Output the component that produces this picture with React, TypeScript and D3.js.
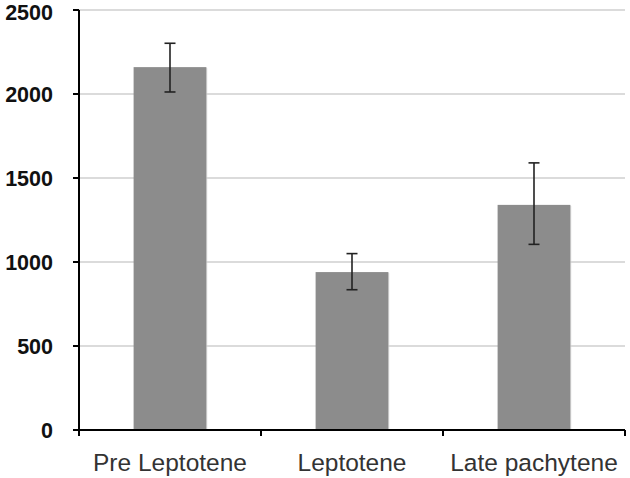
import React from "react";
import * as d3 from "d3";

const categories = ["Pre Leptotene", "Leptotene", "Late pachytene"];
const values = [2160, 940, 1340];
const errLow = [2012, 835, 1105];
const errHigh = [2302, 1050, 1590];
const yTicks = [0, 500, 1000, 1500, 2000, 2500];

const W = 630;
const H = 478;
const left = 79;
const right = 625;
const top = 10;
const bottom = 430;

export default function App() {
  const x = d3
    .scaleBand<string>()
    .domain(categories)
    .range([left, right])
    .paddingInner(0.6)
    .paddingOuter(0.3);
  const y = d3.scaleLinear().domain([0, 2500]).range([bottom, top]);
  const step = x.step();
  const boundaries = d3.range(categories.length + 1).map((i) => left + i * step);

  return (
    <svg width={W} height={H} style={{ position: "absolute", left: 0, top: 0 }}>
      <rect width={W} height={H} fill="#fff" />
      {yTicks
        .filter((t) => t > 0)
        .map((t) => (
          <line key={t} x1={left} x2={right} y1={y(t)} y2={y(t)} stroke="#b8b8b8" strokeWidth={1.2} />
        ))}
      {categories.map((c, i) => (
        <g key={c}>
          <rect
            x={x(c)! + 1}
            y={y(values[i]) + 1}
            width={x.bandwidth()}
            height={bottom - y(values[i])}
            fill="#d8d8d8"
            opacity={0.6}
          />
          <rect
            x={x(c)!}
            y={y(values[i])}
            width={x.bandwidth()}
            height={bottom - y(values[i])}
            fill="#8c8c8c"
          />
        </g>
      ))}
      {categories.map((c, i) => {
        const cx = x(c)! + x.bandwidth() / 2;
        return (
          <g key={c + "e"} stroke="#222" strokeWidth={1.6}>
            <line x1={cx} x2={cx} y1={y(errLow[i])} y2={y(errHigh[i])} />
            <line x1={cx - 5.5} x2={cx + 5.5} y1={y(errLow[i])} y2={y(errLow[i])} />
            <line x1={cx - 5.5} x2={cx + 5.5} y1={y(errHigh[i])} y2={y(errHigh[i])} />
          </g>
        );
      })}
      <line x1={left} x2={left} y1={top} y2={bottom} stroke="#000" strokeWidth={2} />
      <line x1={left - 1} x2={right} y1={bottom} y2={bottom} stroke="#000" strokeWidth={2} />
      {yTicks.map((t) => (
        <g key={"yt" + t}>
          <line x1={left - 6} x2={left} y1={y(t)} y2={y(t)} stroke="#000" strokeWidth={2} />
          <text
            x={53}
            y={Math.max(y(t), top + 2.5)}
            dy="0.36em"
            textAnchor="end"
            fontFamily="'Liberation Sans', Arial, sans-serif"
            fontWeight="bold"
            fontSize={21.5}
            fill="#111"
          >
            {t}
          </text>
        </g>
      ))}
      {boundaries.map((b, i) => (
        <line key={"xt" + i} x1={b} x2={b} y1={bottom} y2={bottom + 6} stroke="#000" strokeWidth={2} />
      ))}
      {categories.map((c) => (
        <text
          key={c + "l"}
          x={x(c)! + x.bandwidth() / 2}
          y={471}
          textAnchor="middle"
          fontFamily="'Liberation Sans', Arial, sans-serif"
          fontSize={24.5}
          fill="#333"
        >
          {c}
        </text>
      ))}
    </svg>
  );
}
